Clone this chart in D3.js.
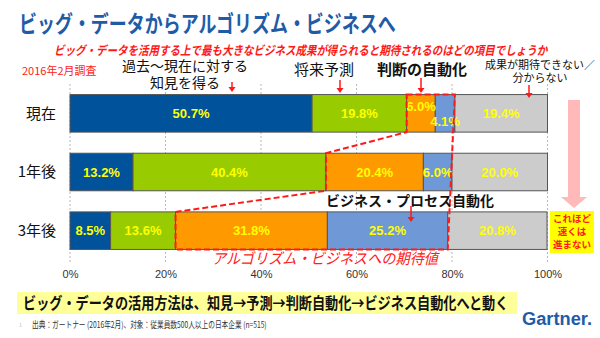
<!DOCTYPE html>
<html>
<head>
<meta charset="utf-8">
<script src="https://cdn.jsdelivr.net/npm/d3@7"></script>
<style>
  body { margin: 0; background: #fff; }
  svg { display: block; }
  .jp { font-family: "Noto Sans CJK JP", sans-serif; }
</style>
</head>
<body>
<div id="chart"></div>
<script>
// データ
const periods = ["現在", "1年後", "3年後"];
const outcomes = ["知見", "予測", "判断自動化", "ビジネス自動化", "分からない"];
const nowValues = [50.7, 19.8, 6.0, 4.1, 19.4];
const oneYearValues = [13.2, 40.4, 20.4, 6.0, 20.0];
const threeYearValues = [8.5, 13.6, 31.8, 25.2, 20.8];
const xTicks = [0, 20, 40, 60, 80, 100];
const colors = ["#00529b", "#99cc00", "#ff9900", "#6f98d6", "#cccccc"];

const rows = [nowValues, oneYearValues, threeYearValues];

const W = 600, H = 338;
const svg = d3.select("#chart").append("svg")
  .attr("width", W).attr("height", H);

// 横幅に合わせて横方向だけ縮める
function fitText(cls, x0, base, width, size, text) {
  const t = svg.append("text").attr("class", cls)
    .style("font-size", size + "px")
    .text(text);
  return { t, fit() {
    const k = width / t.node().getComputedTextLength();
    t.attr("transform", `translate(${x0},${base}) scale(${k},1)`);
    return t;
  } };
}

const x = d3.scaleLinear().domain([0, 100]).range([70, 547.5]);
const y = d3.scaleBand().domain(periods).range([84, 260]).paddingInner(0.36).paddingOuter(0.18);

// 目盛り線
svg.append("g").selectAll("line")
  .data(xTicks)
  .enter().append("line")
  .attr("x1", d => x(d)).attr("x2", d => x(d))
  .attr("y1", 84).attr("y2", 263)
  .attr("stroke", "#b8b8b8")
  .attr("stroke-dasharray", "2,2");

const axis = svg.append("g")
  .attr("transform", "translate(0,266)")
  .call(d3.axisBottom(x).tickValues(xTicks).tickFormat(d => d + "%").tickSize(0));
axis.select(".domain").remove();
axis.selectAll("text")
  .attr("dy", "0.8em")
  .style("font-family", "Liberation Sans, Arial, sans-serif")
  .style("font-size", "11px")
  .attr("fill", "#333");

// 積み上げ
const stacked = rows.map((vals, i) => {
  let acc = 0;
  return vals.map((v, j) => {
    const s = { period: periods[i], key: outcomes[j], v, x0: acc, x1: acc + v, j };
    acc += v;
    return s;
  });
});

const rowG = svg.selectAll(".row")
  .data(stacked)
  .enter().append("g");

rowG.selectAll("rect")
  .data(d => d)
  .enter().append("rect")
  .attr("x", d => x(d.x0))
  .attr("y", d => y(d.period))
  .attr("width", d => x(d.x1) - x(d.x0))
  .attr("height", y.bandwidth())
  .attr("fill", d => colors[d.j])
  .attr("stroke", "#555")
  .attr("stroke-width", 1);

// 小さい区間はラベルをずらす
function labelShift(seg, row) {
  if (seg.v < 5) return 8;
  const next = row[seg.j + 1];
  if (next && next.v < 5) return -7;
  return 0;
}

rowG.each(function (row) {
  d3.select(this).selectAll("text")
    .data(row)
    .enter().append("text")
    .attr("x", d => x((d.x0 + d.x1) / 2))
    .attr("y", d => y(d.period) + y.bandwidth() / 2 + labelShift(d, row))
    .attr("dy", "0.36em")
    .attr("text-anchor", "middle")
    .style("font-family", "Liberation Sans, Arial, sans-serif")
    .style("font-weight", "bold")
    .style("font-size", "13px")
    .attr("fill", "#ffff00")
    .text(d => d.v.toFixed(1) + "%");
});

// カテゴリ
svg.append("g").selectAll("text")
  .data(periods)
  .enter().append("text")
  .attr("class", "jp")
  .attr("x", 56)
  .attr("y", d => y(d) + y.bandwidth() / 2)
  .attr("dy", "0.36em")
  .attr("text-anchor", "end")
  .style("font-size", "15px")
  .attr("fill", "#111")
  .text(d => d);

// アルゴリズム・ビジネスの破線枠
const barTop = p => y(p), barBot = p => y(p) + y.bandwidth();
const s0 = stacked[0][2].x0, s1 = stacked[1][2].x0, s2 = stacked[2][2].x0;
const r0 = stacked[0][3].x1, r2 = stacked[2][3].x1;
const poly = [
  [x(s0), barTop(periods[0])], [x(r0), barTop(periods[0])],
  [x(r2), barBot(periods[2])], [x(s2), barBot(periods[2])],
  [x(s2), barTop(periods[2])], [x(s1), barBot(periods[1])],
  [x(s1), barTop(periods[1])], [x(s0), barBot(periods[0])]
];
svg.append("path")
  .attr("d", d3.line()(poly) + "Z")
  .attr("fill", "none")
  .attr("stroke", "#ff1a1a")
  .attr("stroke-width", 2)
  .attr("stroke-dasharray", "6,3");

const algo = fitText("jp", 212, 264, 226, 15, "アルゴリズム・ビジネスへの期待値");
algo.t.style("font-style", "italic").attr("fill", "#ff2020");
algo.fit();

// タイトル
const title = fitText("jp", 19, 32, 377, 23, "ビッグ・データからアルゴリズム・ビジネスへ");
title.t.style("font-weight", "bold").attr("fill", "#1f5ca8");
title.fit();

const sub = fitText("jp", 54, 55, 494, 12.5,
  "ビッグ・データを活用する上で最も大きなビジネス成果が得られると期待されるのはどの項目でしょうか");
sub.t.style("font-weight", "bold").style("font-style", "italic").attr("fill", "#ff1a1a");
sub.fit();

svg.append("text").attr("class", "jp")
  .attr("x", 22).attr("y", 75)
  .style("font-size", "11px")
  .attr("fill", "#ff1a1a")
  .text("2016年2月調査");

// 上部の注記
const notes = [
  { lines: ["過去～現在に対する", "知見を得る"], x: 185, y: 71, size: 14, gap: 16.5, bold: false },
  { lines: ["将来予測"], x: 324, y: 75, size: 15, gap: 0, bold: false },
  { lines: ["判断の自動化"], x: 422, y: 75, size: 15, gap: 0, bold: true },
  { lines: ["成果が期待できない／", "分からない"], x: 540, y: 68.5, size: 11, gap: 13.5, bold: false }
];
notes.forEach(n => {
  n.lines.forEach((l, i) => {
    svg.append("text").attr("class", "jp")
      .attr("text-anchor", "middle")
      .attr("x", n.x).attr("y", n.y + i * n.gap)
      .style("font-size", n.size + "px")
      .style("font-weight", n.bold ? "bold" : "normal")
      .attr("fill", "#111")
      .text(l);
  });
});

svg.append("text").attr("class", "jp")
  .attr("x", 410).attr("y", 206)
  .attr("text-anchor", "middle")
  .style("font-size", "14px").style("font-weight", "bold")
  .attr("fill", "#111")
  .text("ビジネス・プロセス自動化");

// 赤い小矢印
const arrows = [[232, 82, 92], [340, 80, 93], [421, 78, 93], [529, 85, 98], [411, 206, 222]];
arrows.forEach(([ax, y0, y1]) => {
  svg.append("line")
    .attr("x1", ax).attr("x2", ax).attr("y1", y0).attr("y2", y1 - 4)
    .attr("stroke", "#ff1a1a").attr("stroke-width", 1.5);
  svg.append("path")
    .attr("d", `M${ax - 3.5},${y1 - 5} L${ax + 3.5},${y1 - 5} L${ax},${y1} Z`)
    .attr("fill", "#ff1a1a");
});

// ピンクの大矢印
svg.append("path")
  .attr("d", "M568,100 L580,100 L580,197 L587,197 L574,208 L561,197 L568,197 Z")
  .attr("fill", "#ffb9b9");

svg.append("rect")
  .attr("x", 550).attr("y", 211).attr("width", 44).attr("height", 42)
  .attr("fill", "#ffff00");
["これほど", "速くは", "進まない"].forEach((l, i) => {
  svg.append("text").attr("class", "jp")
    .attr("text-anchor", "middle")
    .attr("x", 572).attr("y", 222 + i * 13)
    .style("font-size", "9.5px").style("font-weight", "bold")
    .attr("fill", "#ff1a1a")
    .text(l);
});

// 下部まとめ
svg.append("rect")
  .attr("x", 17).attr("y", 292).attr("width", 500).attr("height", 22)
  .attr("fill", "#ffff99");
const summary = fitText("jp", 23, 309, 486, 16,
  "ビッグ・データの活用方法は、知見→予測→判断自動化→ビジネス自動化へと動く");
summary.t.style("font-weight", "bold").attr("fill", "#111");
summary.fit();

svg.append("text")
  .attr("x", 19).attr("y", 327)
  .style("font-size", "6px").attr("fill", "#bbb").text("1");
const source = fitText("jp", 32, 328, 235, 9,
  "出典：ガートナー (2016年2月)、対象：従業員数500人以上の日本企業 (n=515)");
source.t.attr("fill", "#333");
source.fit();

// ロゴ
svg.append("text")
  .attr("x", 522).attr("y", 325)
  .style("font-family", "Liberation Sans, Arial, sans-serif")
  .style("font-size", "18px").style("font-weight", "bold")
  .attr("fill", "#1f5ca8")
  .attr("textLength", 70).attr("lengthAdjust", "spacingAndGlyphs")
  .text("Gartner.");
</script>
</body>
</html>
